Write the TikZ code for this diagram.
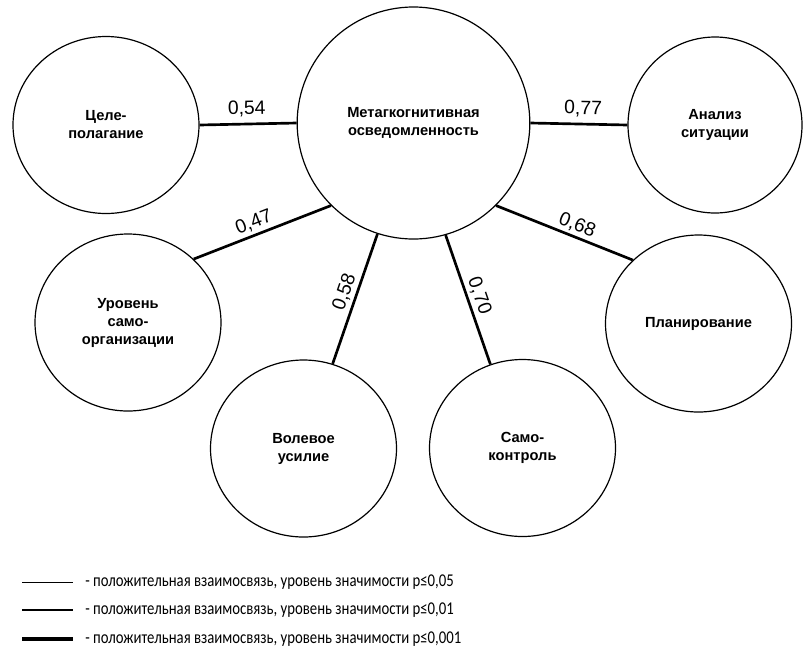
\documentclass[tikz,border=0pt]{standalone}
\usepackage{fontspec}
\setmainfont{Liberation Sans}
\newfontfamily\legfont[FakeStretch=0.82]{Carlito}
\usetikzlibrary{shapes.geometric}
\begin{document}
\begin{tikzpicture}[x=0.75pt,y=-0.75pt,
  sat/.style={draw, ellipse, line width=0.9pt, inner sep=0pt,
    minimum width=139.5pt, minimum height=132.75pt, align=center,
    font=\bfseries\fontsize{11}{13.5}\selectfont},
  hub/.style={sat, minimum width=174.5pt, minimum height=174pt},
  link/.style={line width=2pt},
  val/.style={font=\fontsize{14.5}{16}\selectfont, inner sep=0pt, sloped},
  legtext/.style={anchor=west, inner sep=0pt, font=\legfont\fontsize{13.5}{15}\selectfont},
  w1/.style={line width=0.7pt},
  w2/.style={line width=2pt},
  w3/.style={line width=3.6pt}]
\useasboundingbox (0,0) rectangle (803,654);

\node[hub] (meta) at (413.5,123) {Метагкогнитивная\\осведомленность};
\node[sat] (cel)  at (106,125)   {Целе-\\полагание};
\node[sat, minimum width=130.5pt, minimum height=132pt] (anal) at (715,125) {Анализ\\ситуации};
\node[sat] (lvl)  at (128,322.5) {Уровень\\само-\\организации};
\node[sat] (plan) at (698.5,323.5) {Планирование};
\node[sat] (vol)  at (303.5,448.5) {Волевое\\усилие};
\node[sat] (self) at (522.5,448) {Само-\\контроль};

\draw[link] (cel.0) -- node[val, pos=0.49, above=4.5pt] (v54) {0,54} (meta.180);
\draw[link] (meta.0) -- node[val, pos=0.54, above=4.5pt] (v77) {0,77} (anal.180);
\draw[link] (lvl.44) -- node[val, pos=0.47, above=2pt] (v47) {0,47} (meta.225);
\draw[link] (vol.71) -- node[val, pos=0.52, above=2pt] (v58) {0,58} (meta.252);
\draw[link] (meta.286.5) -- node[val, pos=0.5, above=2pt] (v70) {0,70} (self.111.5);
\draw[link] (meta.315.5) -- node[val, pos=0.56, above=2pt] (v68) {0,68} (plan.136.8);

\coordinate (a1) at (22,582); \coordinate (b1) at (73,582);
\coordinate (a2) at (22,610); \coordinate (b2) at (73,610);
\coordinate (a3) at (22,639); \coordinate (b3) at (73,639);
\draw[w1] (a1) -- (b1);
\draw[w2] (a2) -- (b2);
\draw[w3] (a3) -- (b3);
\node[legtext] (t1) at (85,582) {- положительная взаимосвязь, уровень значимости p≤0,05};
\node[legtext] (t2) at (85,610) {- положительная взаимосвязь, уровень значимости p≤0,01};
\node[legtext] (t3) at (85,639) {- положительная взаимосвязь, уровень значимости p≤0,001};
\end{tikzpicture}
\end{document}
